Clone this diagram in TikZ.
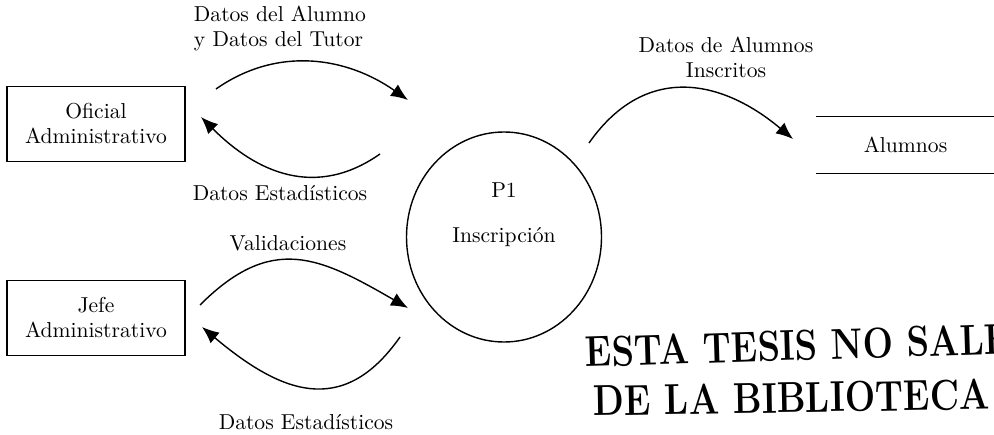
\documentclass[tikz,border=0pt]{standalone}
\usepackage{tikz}
\usetikzlibrary{shapes.geometric,arrows.meta}

\newcommand{\etiq}{\fontsize{10.8}{12.5}\selectfont}

\tikzset{
  entidad/.style={draw,minimum width=89pt,minimum height=37.5pt,align=center,font=\etiq},
  proceso/.style={draw,ellipse,minimum width=97.5pt,minimum height=105pt,inner sep=0pt,font=\etiq},
  almacen/.style={minimum width=88.5pt,minimum height=28pt,inner sep=0pt,font=\etiq},
  texto/.style={align=center,font=\etiq},
  flujo/.style={-{Latex[length=8.5pt,width=7pt]}},
  sello/.style={anchor=base west,inner sep=0pt,font=\fontsize{18}{20}\selectfont\bfseries}
}

\begin{document}
\begin{tikzpicture}[x=0.5pt,y=0.5pt,line width=0.7pt]
    \useasboundingbox (0,0) rectangle (994,434);
    % entidades externas, proceso y almacen
    \node[entidad] (oficial) at (96,310) {Oficial\\Administrativo};
    \node[entidad] (jefe) at (96,116) {Jefe\\Administrativo};
    \node[proceso] (p1) at (504,197) {Inscripción};
    \node[texto] (p1num) at (504,244) {P1};
    \node[almacen] (alumnos) at (905.5,289) {Alumnos};
    \draw (alumnos.north west) -- (alumnos.north east);
    \draw (alumnos.south west) -- (alumnos.south east);%
    % extremos de los flujos
    \coordinate (d1a) at (216,345);
    \coordinate (d1b) at (408,334);
    \coordinate (e1a) at (380,280);
    \coordinate (e1b) at (201,317);
    \coordinate (v1a) at (200,129);
    \coordinate (v1b) at (408,126);
    \coordinate (e2a) at (400,97);
    \coordinate (e2b) at (202,107);
    \coordinate (i1a) at (589,291);
    \coordinate (i1b) at (793,295);%
    \draw[flujo] (d1a) to[out=35,in=145] (d1b);
    \draw[flujo] (e1a) to[out=215,in=-45,looseness=1.1] (e1b);
    \draw[flujo] (v1a) to[out=45,in=150,looseness=1.25] (v1b);
    \draw[flujo] (e2a) to[out=235,in=-40,looseness=1.3] (e2b);
    \draw[flujo] (i1a) to[out=55,in=140,looseness=1.2] (i1b);%
    % etiquetas de los flujos
    \node[texto,align=left] (datos) at (280,406) {Datos del Alumno\\y Datos del Tutor};
    \node[texto] (est1) at (280,241) {Datos Estadísticos};
    \node[texto] (valid) at (288,191) {Validaciones};
    \node[texto] (est2) at (306,12) {Datos Estadísticos};
    \node[texto] (inscritos) at (726,377) {Datos de Alumnos\\Inscritos};%
    % sello
    \begin{scope}
    \clip (0,0) rectangle (994,434);
    \node[sello,rotate=1.8] (sello1) at (585,67) {\scalebox{1}[1.2]{ESTA TESIS NO SALE}};
    \node[sello,rotate=1] (sello2) at (593,18) {\scalebox{1}[1.2]{DE LA BIBLIOTECA}};
    \end{scope}
\end{tikzpicture}
\end{document}
